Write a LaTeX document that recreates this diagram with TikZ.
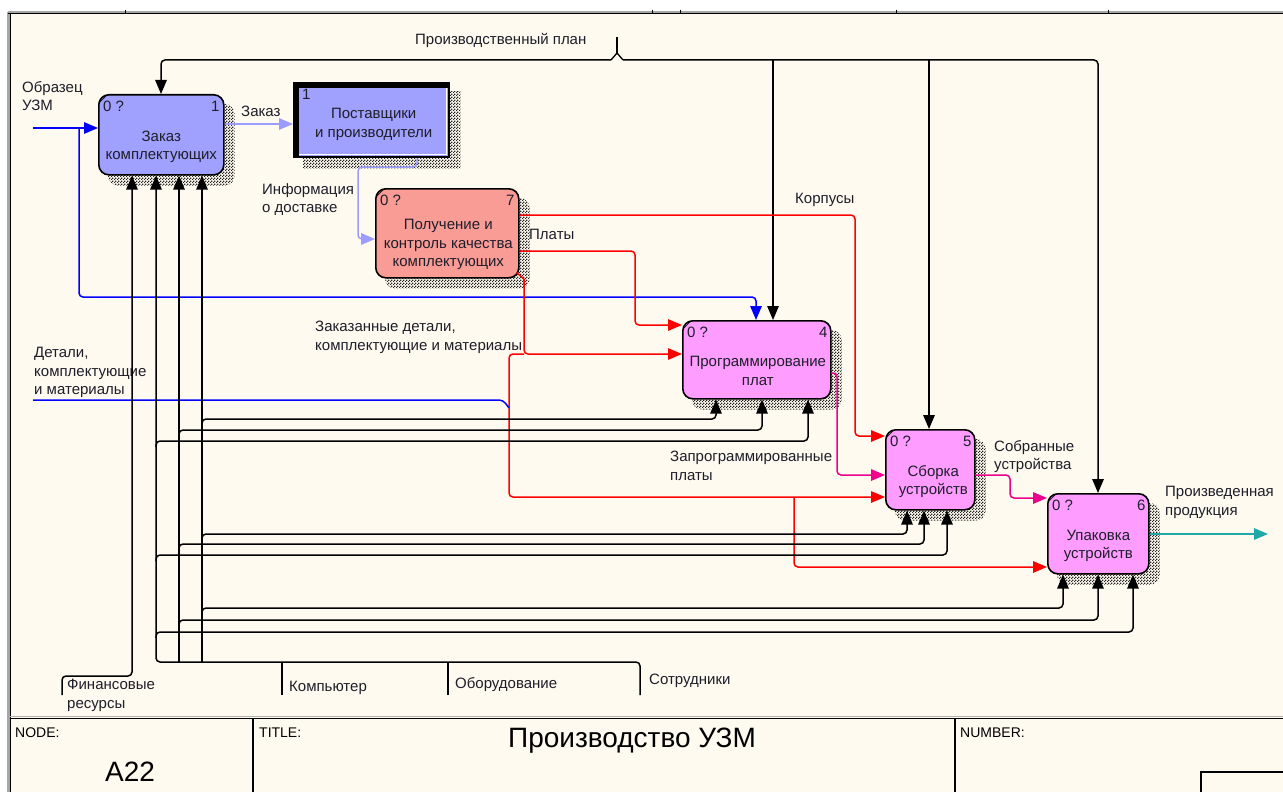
\documentclass[tikz,border=0pt]{standalone}
\usepackage{fontspec}
\setmainfont{Liberation Sans}
\usetikzlibrary{arrows.meta,patterns}
\pgfdeclarepatternformonly{dither}{\pgfpointorigin}{\pgfqpoint{3pt}{3pt}}{\pgfqpoint{3pt}{3pt}}{%
  \pgfpathrectangle{\pgfpointorigin}{\pgfqpoint{1.5pt}{1.5pt}}%
  \pgfpathrectangle{\pgfqpoint{1.5pt}{1.5pt}}{\pgfqpoint{1.5pt}{1.5pt}}%
  \pgfusepath{fill}}
\pgfdeclarelayer{bg}
\pgfsetlayers{bg,main}
\definecolor{bgc}{HTML}{FFFAEF}
\definecolor{boxblue}{HTML}{A0A0FF}
\definecolor{boxsalmon}{HTML}{FA9C96}
\definecolor{boxpink}{HTML}{FF9CFF}
\definecolor{lblue}{HTML}{9C9CFF}
\definecolor{tealc}{HTML}{20A8A8}
\definecolor{txtc}{HTML}{1E1E2A}
\tikzset{
  fnt/.style={font=\fontsize{15}{18.5}\selectfont},
  ibox/.style={draw=black, line width=1.6pt, rounded corners=10pt, anchor=north west, inner sep=0pt},
  btext/.style={fnt, align=center, inner sep=0pt, text=txtc},
  lbl/.style={fnt, anchor=north west, align=left, inner sep=0pt, text=txtc},
  cornerl/.style={fnt, anchor=north west, inner sep=0pt, text=txtc},
  cornerr/.style={fnt, anchor=north east, inner sep=0pt, text=txtc},
  ln/.style={line width=1.5pt, rounded corners=4pt},
  arr/.style={ln, -{Triangle[length=14pt,width=11.5pt]}},
}
\begin{document}
\begin{tikzpicture}[x=1pt,y=-1pt]
\useasboundingbox (0,0) rectangle (1283,792);
\begin{pgfonlayer}{bg}
\fill[white] (0,0) rectangle (1283,792);
\fill[bgc] (10,13) rectangle (1283,792);
\end{pgfonlayer}
% frame
\draw[gray!70, line width=3pt] (8,12) -- (8,792);
\draw[black, line width=1.2pt] (10.5,12) -- (10.5,792);
\draw[gray!70, line width=1.2pt] (8,12) -- (1283,12);
\draw[black, line width=1.2pt] (8,13.5) -- (1283,13.5);
\foreach \tx in {125,652,680,896,1108} \draw[black, line width=1pt] (\tx,10) -- (\tx,13);
% title block
\draw[black, line width=1.5pt] (10,718.5) -- (1283,718.5);
\draw[gray!60, line width=1pt] (10,716.5) -- (1283,716.5);
\draw[black, line width=1.5pt] (253,718) -- (253,792);
\draw[black, line width=1.5pt] (955,718) -- (955,792);
\draw[black, line width=1.2pt] (1283,772) -- (1201,772) -- (1201,792);
\node[anchor=north west, inner sep=0pt, font=\fontsize{14}{16}\selectfont] (tnode) at (15,728) {NODE:};
\node[anchor=north west, inner sep=0pt, font=\fontsize{14}{16}\selectfont] (ttitle) at (259,728) {TITLE:};
\node[anchor=north west, inner sep=0pt, font=\fontsize{14}{16}\selectfont] (tnum) at (960,728) {NUMBER:};
\node[inner sep=0pt, font=\fontsize{28}{32}\selectfont] (tnodeval) at (130,772) {A22};
\node[inner sep=0pt, font=\fontsize{28}{32}\selectfont] (ttitleval) at (632,741) {Производство УЗМ};

% boxes
\node[ibox, fill=boxblue, minimum width=125pt, minimum height=80pt] (b1) at (98,94) {};
\node[anchor=north west, inner sep=0pt, fill=boxblue, minimum width=157pt, minimum height=76pt] (bs) at (293,82) {};
\node[ibox, fill=boxsalmon, minimum width=143pt, minimum height=89pt] (b7) at (375,188) {};
\node[ibox, fill=boxpink, minimum width=148pt, minimum height=78pt] (b4) at (682,320) {};
\node[ibox, fill=boxpink, minimum width=89pt, minimum height=80pt] (b5) at (885,429) {};
\node[ibox, fill=boxpink, minimum width=101pt, minimum height=80pt] (b6) at (1047,493) {};
% supplier box borders
\fill[black] (bs.north west) rectangle ([shift={(157,6)}]bs.north west);
\fill[black] (bs.north west) rectangle ([shift={(6,76)}]bs.north west);
\draw[black, line width=2pt] ([shift={(0,-1)}]bs.south west) -- ([shift={(-1,-1)}]bs.south east) -- ([shift={(-1,0)}]bs.north east);
\draw[white, line width=1pt] ([shift={(6,-3.5)}]bs.south west) -- ([shift={(-3.5,-3.5)}]bs.south east) -- ([shift={(-3.5,6)}]bs.north east);
\begin{pgfonlayer}{bg}
\foreach \n in {b1,b7,b4,b5,b6}
  \fill[pattern=dither, pattern color=black!85, rounded corners=10pt] ([shift={(10,10)}]\n.north west) rectangle ([shift={(10,10)}]\n.south east);
\fill[pattern=dither, pattern color=black!85] ([shift={(10,10)}]bs.north west) rectangle ([shift={(10,10)}]bs.south east);
\end{pgfonlayer}
% corner marks
\foreach \n in {b1,b7,b4,b5,b6}
  \draw[line width=0.6pt] ([shift={(1,9)}]\n.north west) -- ([shift={(9,1)}]\n.north west);
% box texts
\node[btext] (b1t) at ([shift={(0,12)}]b1.center) {Заказ\\комплектующих};
\node[cornerl] (b1a) at ([shift={(5,7)}]b1.north west) {0 ?};
\node[cornerr] (b1n) at ([shift={(-5,7)}]b1.north east) {1};
\node[btext] (bst) at ([shift={(2,4)}]bs.center) {Поставщики\\и производители};
\node[cornerl] (bsn) at ([shift={(9,7)}]bs.north west) {1};
\node[btext] (b7t) at ([shift={(1,11.5)}]b7.center) {Получение и\\контроль качества\\комплектующих};
\node[cornerl] (b7a) at ([shift={(5,7)}]b7.north west) {0 ?};
\node[cornerr] (b7n) at ([shift={(-5,7)}]b7.north east) {7};
\node[btext] (b4t) at ([shift={(1,11)}]b4.center) {Программирование\\плат};
\node[cornerl] (b4a) at ([shift={(5,7)}]b4.north west) {0 ?};
\node[cornerr] (b4n) at ([shift={(-4,7)}]b4.north east) {4};
\node[btext] (b5t) at ([shift={(3,12)}]b5.center) {Сборка\\устройств};
\node[cornerl] (b5a) at ([shift={(5,7)}]b5.north west) {0 ?};
\node[cornerr] (b5n) at ([shift={(-4,7)}]b5.north east) {5};
\node[btext] (b6t) at ([shift={(0,12)}]b6.center) {Упаковка\\устройств};
\node[cornerl] (b6a) at ([shift={(5,7)}]b6.north west) {0 ?};
\node[cornerr] (b6n) at ([shift={(-4,7)}]b6.north east) {6};

% control: Производственный план
\coordinate (ppin) at (617,37);
\draw[ln] (ppin) -- (617,54);
\draw[line width=1.3pt] (611,60) -- (617,53) -- (623,60);
\draw[arr] (611,60) -- (161,60) -- (161,0 |- b1.north) [sharp corners];
\draw[arr] (623,60) -- (1098,60) -- (1098,0 |- b6.north) [sharp corners];
\draw[arr] (773,60) -- (773,0 |- b4.north) [sharp corners];
\draw[arr] (929,60) -- (929,0 |- b5.north) [sharp corners];
\node[lbl] (lpp) at (415,33) {Производственный план};

% input: Образец УЗМ
\coordinate (obin) at (33,128);
\draw[arr, blue] (obin) -- (b1.west |- 0,128) [sharp corners];
\draw[arr, blue] (79,128) -- (79,297) -- (756,297) -- (756,0 |- b4.north) [sharp corners];
\node[lbl] (lob) at (22,81) {Образец\\УЗМ};

% Заказ
\draw[arr, lblue] (b1.east |- 0,124) -- (bs.west |- 0,124) [sharp corners];
\node[lbl] (lzak) at (241,106) {Заказ};
% Информация о доставке
\draw[arr, lblue] (417,0 |- bs.south) -- (417,167) -- (358,167) -- (358,239) -- (b7.west |- 0,239) [sharp corners];
\node[lbl] (linf) at (262,183) {Информация\\о доставке};
% Корпусы
\draw[arr, red] (b7.east |- 0,215) -- (855,215) -- (855,436) -- (b5.west |- 0,436) [sharp corners];
\node[lbl] (lkor) at (795,193) {Корпусы};
% Платы
\draw[arr, red] (b7.east |- 0,251) -- (635,251) -- (635,325) -- (b4.west |- 0,325) [sharp corners];
\node[lbl] (lpl) at (529,229) {Платы};
% Заказанные детали
\draw[line width=1.5pt, red] ([shift={(-3,-6)}]b7.south east) -- (524,279);
\draw[arr, red] (524,279) -- (524,354) -- (b4.west |- 0,354) [sharp corners];
\draw[arr, red] (524,354) -- (509,354) -- (509,497) -- (b5.west |- 0,497) [sharp corners];
\draw[arr, red] (794,497) -- (794,567) -- (b6.west |- 0,567) [sharp corners];
\node[lbl] (lzd) at (315,321) {Заказанные детали,\\комплектующие и материалы};
% Детали, комплектующие и материалы
\coordinate (dtin) at (33,400);
\draw[ln, blue] (dtin) -- (503,400) -- (509,408);
\node[lbl] (ldt) at (34,347) {Детали,\\комплектующие\\и материалы};
% Запрограммированные платы
\draw[arr, magenta] (b4.east |- 0,373) -- (837,373) -- (837,475) -- (b5.west |- 0,475) [sharp corners];
\node[lbl] (lzp) at (670,451) {Запрограммированные\\платы};
% Собранные устройства
\draw[arr, magenta] (b5.east |- 0,475) -- (1010,475) -- (1010,498) -- (b6.west |- 0,498) [sharp corners];
\node[lbl] (lsu) at (994,440) {Собранные\\устройства};
% Произведенная продукция
\coordinate (pout) at (1268,534);
\draw[arr, tealc] (b6.east |- 0,534) -- (pout) [sharp corners];
\node[lbl] (lpr) at (1165,486) {Произведенная\\продукция};

% mechanisms
\coordinate (fin) at (62,695);
\draw[arr] (fin) -- (62,676) -- (132,676) -- (132,0 |- b1.south) [sharp corners];
\node[lbl] (lfin) at (67,679) {Финансовые\\ресурсы};
\coordinate (sot) at (640,695);
\coordinate (obo) at (448,695);
\coordinate (komp) at (282,695);
\draw[arr] (sot) -- (640,662) -- (156,662) -- (156,0 |- b1.south) [sharp corners];
\draw[ln] (obo) -- (448,662);
\draw[ln] (komp) -- (282,662);
\draw[arr] (179,662) -- (179,0 |- b1.south) [sharp corners];
\draw[arr] (202,662) -- (202,0 |- b1.south) [sharp corners];
\node[lbl] (lkomp) at (289,681) {Компьютер};
\node[lbl] (lobo) at (455,677) {Оборудование};
\node[lbl] (lsot) at (649,674) {Сотрудники};
% to box 4
\draw[arr] (202,425) -- (202,419) -- (716,419) -- (716,0 |- b4.south) [sharp corners];
\draw[arr] (179,436) -- (179,430) -- (762,430) -- (762,0 |- b4.south) [sharp corners];
\draw[arr] (156,447) -- (156,441) -- (808,441) -- (808,0 |- b4.south) [sharp corners];
% to box 5
\draw[arr] (202,540) -- (202,534) -- (907,534) -- (907,0 |- b5.south) [sharp corners];
\draw[arr] (179,550) -- (179,544) -- (924,544) -- (924,0 |- b5.south) [sharp corners];
\draw[arr] (156,561) -- (156,555) -- (947,555) -- (947,0 |- b5.south) [sharp corners];
% to box 6
\draw[arr] (202,614) -- (202,608) -- (1063,608) -- (1063,0 |- b6.south) [sharp corners];
\draw[arr] (179,626) -- (179,620) -- (1098,620) -- (1098,0 |- b6.south) [sharp corners];
\draw[arr] (156,638) -- (156,632) -- (1133,632) -- (1133,0 |- b6.south) [sharp corners];
\end{tikzpicture}
\end{document}
